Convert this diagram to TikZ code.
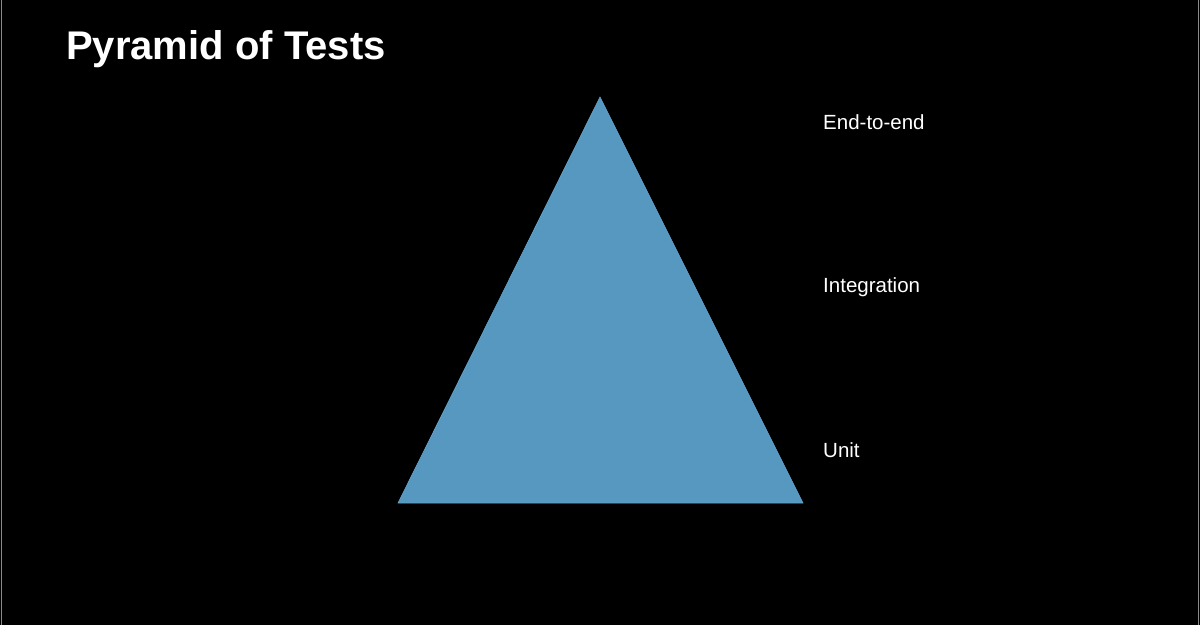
\documentclass[tikz,border=0pt]{standalone}
\usepackage{fontspec}
\setmainfont{Liberation Sans}
\definecolor{pyr}{HTML}{5798C1}
\definecolor{pyredge}{HTML}{64A5CF}
\definecolor{edgegray}{HTML}{8A8A8A}
\tikzset{
  lbl/.style={anchor=base west, inner sep=0pt, text=white, font=\fontsize{20.5}{24}\selectfont},
  ttl/.style={anchor=base west, inner sep=0pt, text=white, font=\fontsize{40}{48}\selectfont\bfseries}
}
\begin{document}
\begin{tikzpicture}[x=1pt,y=-1pt]
  \fill[black] (0,0) rectangle (1200,625);
  \useasboundingbox (0,0) rectangle (1200,625);
  \draw[edgegray, line width=1pt] (1.5,0) -- (1.5,625);
  \draw[edgegray, line width=1pt] (1198.5,0) -- (1198.5,625);
  \coordinate (apex) at (600,97);
  \coordinate (bl) at (398,503);
  \coordinate (br) at (803,503);
  \filldraw[fill=pyr, draw=pyredge, line width=0.6pt] (apex) -- (br) -- (bl) -- cycle;
  \node[ttl] (title) at (66,59) {Pyramid of Tests};
  \node[lbl] (e2e) at (823,129) {End-to-end};
  \node[lbl] (integ) at (823,292) {Integration};
  \node[lbl] (unit) at (823,457) {Unit};
\end{tikzpicture}
\end{document}
